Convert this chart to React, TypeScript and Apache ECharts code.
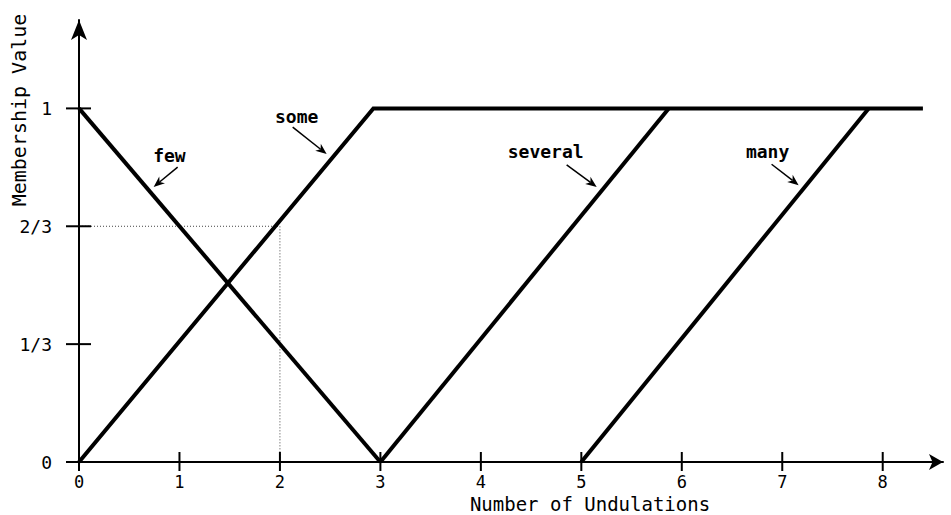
import React, { useEffect, useRef } from "react";
import * as echarts from "echarts";

const xTicks = [0, 1, 2, 3, 4, 5, 6, 7, 8];
const yTicks = [0, 1 / 3, 2 / 3, 1];
const yTickLabels = ["0", "1/3", "2/3", "1"];

const few = [[0, 1], [3, 0]];
const some = [[0, 0], [2.93, 1], [8.4, 1]];
const several = [[3, 0], [5.87, 1]];
const many = [[5, 0], [7.86, 1]];
const guide = [[0, 2 / 3], [2, 2 / 3], [2, 0]];

const annotationNames = ["few", "some", "several", "many"];
const annotationText = [[0.9, 0.868], [2.167, 0.978], [4.645, 0.877], [6.854, 0.879]];
const arrowFrom = [[0.982, 0.834], [2.127, 0.947], [4.854, 0.84], [6.894, 0.842]];
const arrowTo = [[0.743, 0.778], [2.465, 0.871], [5.153, 0.778], [7.163, 0.783]];

const FONT = "DejaVu Sans Mono";

export default function App() {
  const ref = useRef<HTMLDivElement>(null);
  useEffect(() => {
    if (!ref.current) return;
    const chart = echarts.init(ref.current, null, { renderer: "svg" });
    const lineSeries = (name: string, data: number[][]) => ({
      name,
      type: "line",
      data,
      symbol: "none",
      lineStyle: { color: "#000", width: 4, join: "miter" },
      z: 3,
    });
    chart.setOption({
      animation: false,
      backgroundColor: "#fff",
      grid: { left: 79, right: 8, top: 20, bottom: 53 },
      xAxis: {
        type: "value",
        min: 0,
        max: 8.6,
        axisLine: {
          show: true,
          lineStyle: { color: "#000", width: 2 },
          symbol: ["none", "arrow"],
          symbolSize: [12, 14],
        },
        axisTick: { show: false },
        splitLine: { show: false },
        axisLabel: {
          customValues: xTicks,
          color: "#000",
          fontFamily: FONT,
          fontSize: 17,
          lineHeight: 16,
          margin: 12,
          formatter: (v: number) => String(v),
        },
      },
      yAxis: {
        type: "value",
        min: 0,
        max: 1.25,
        axisLine: {
          show: true,
          lineStyle: { color: "#000", width: 2 },
          symbol: ["none", "arrow"],
          symbolSize: [12, 20],
        },
        axisTick: { show: false },
        splitLine: { show: false },
        axisLabel: {
          customValues: yTicks,
          color: "#000",
          fontFamily: FONT,
          fontSize: 18,
          margin: 27,
          formatter: (v: number) => {
            const i = yTicks.findIndex((t) => Math.abs(t - v) < 1e-6);
            return i >= 0 ? yTickLabels[i] : "";
          },
        },
      },
      graphic: [
        {
          type: "text",
          x: 590,
          y: 504,
          style: {
            text: "Number of Undulations",
            fill: "#000",
            font: `19px "${FONT}"`,
            lineHeight: 17,
            align: "center",
            verticalAlign: "middle",
          },
        },
        {
          type: "text",
          x: 19,
          y: 110,
          rotation: Math.PI / 2,
          style: {
            text: "Membership Value",
            fill: "#000",
            font: `20px "${FONT}"`,
            align: "center",
            verticalAlign: "middle",
          },
        },
      ],
      series: [
        {
          name: "guide",
          type: "line",
          data: guide,
          symbol: "none",
          lineStyle: { color: "#444", width: 1, type: [1, 2] },
          z: 1,
        },
        lineSeries("few", few),
        lineSeries("some", some),
        lineSeries("several", several),
        lineSeries("many", many),
        {
          name: "xticks",
          type: "custom",
          data: xTicks.map((v) => [v, 0]),
          z: 4,
          renderItem: (_p: any, api: any) => {
            const p = api.coord([api.value(0), api.value(1)]);
            return {
              type: "line",
              shape: { x1: p[0], y1: p[1] - 10, x2: p[0], y2: p[1] + 9 },
              style: { stroke: "#000", lineWidth: 2 },
            };
          },
        },
        {
          name: "yticks",
          type: "custom",
          data: yTicks.map((v) => [0, v]),
          z: 4,
          renderItem: (_p: any, api: any) => {
            const p = api.coord([api.value(0), api.value(1)]);
            return {
              type: "line",
              shape: { x1: p[0] - 13, y1: p[1], x2: p[0] + 12, y2: p[1] },
              style: { stroke: "#000", lineWidth: 2 },
            };
          },
        },
        {
          name: "annotations",
          type: "custom",
          data: annotationText.map((t) => [t[0], t[1]]),
          z: 5,
          renderItem: (params: any, api: any) => {
            const i = params.dataIndex;
            const t = api.coord(annotationText[i]);
            const a = api.coord(arrowFrom[i]);
            const b = api.coord(arrowTo[i]);
            const dx = b[0] - a[0];
            const dy = b[1] - a[1];
            const len = Math.hypot(dx, dy);
            const ux = dx / len;
            const uy = dy / len;
            const hl = 11;
            const hw = 4.5;
            const base = [b[0] - ux * hl, b[1] - uy * hl];
            const notch = [b[0] - ux * hl * 0.7, b[1] - uy * hl * 0.7];
            const p1 = [base[0] - uy * hw, base[1] + ux * hw];
            const p2 = [base[0] + uy * hw, base[1] - ux * hw];
            return {
              type: "group",
              children: [
                {
                  type: "text",
                  x: t[0],
                  y: t[1],
                  style: {
                    text: annotationNames[i],
                    fill: "#000",
                    font: `bold 18px "${FONT}"`,
                    align: "center",
                    verticalAlign: "middle",
                  },
                },
                {
                  type: "line",
                  shape: { x1: a[0], y1: a[1], x2: notch[0], y2: notch[1] },
                  style: { stroke: "#000", lineWidth: 1.5 },
                },
                {
                  type: "polygon",
                  shape: { points: [b, p1, notch, p2] },
                  style: { fill: "#000" },
                },
              ],
            };
          },
        },
      ],
    });
    return () => chart.dispose();
  }, []);
  return (
    <div
      ref={ref}
      style={{ position: "fixed", left: 0, top: 0, width: 951, height: 515 }}
    />
  );
}
